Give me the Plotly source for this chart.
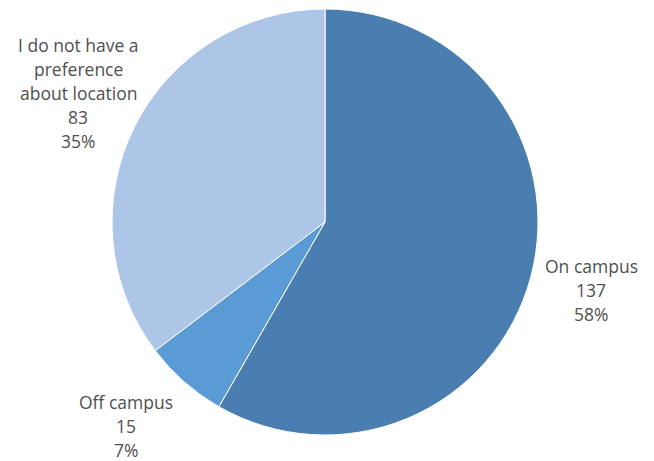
import plotly.graph_objects as go

labels = ["On campus", "Off campus", "I do not have a preference about location"]
label_lines = [["On campus"], ["Off campus"], ["I do not have a", "preference", "about location"]]
values = [137, 15, 83]
pct_labels = ["58%", "7%", "35%"]
colors = ["#4A7EB1", "#5B9BD5", "#ADC5E6"]

W, H = 654, 461
cx, cy, r = 325, 222, 213

fig = go.Figure(go.Pie(
    labels=labels, values=values, sort=False, direction="clockwise", rotation=0,
    marker=dict(colors=colors, line=dict(color="white", width=1)),
    textinfo="none", hoverinfo="label+value+percent",
    domain=dict(x=[(cx - r) / W, (cx + r) / W], y=[(H - cy - r) / H, (H - cy + r) / H]),
    showlegend=False,
))

# label block: center x, first line center y
pos = [(591, 266), (126, 402), (78, 45)]
step = 24.0
for (px, py), lines, v, p in zip(pos, label_lines, values, pct_labels):
    all_lines = lines + [str(v), p]
    for i, t in enumerate(all_lines):
        fig.add_annotation(x=px / W, y=1 - (py + i * step) / H, xref="paper", yref="paper",
                           xanchor="center", yanchor="middle",
                           text=t, showarrow=False, align="center",
                           font=dict(family="Open Sans", size=17.5, color="#505050"))

fig.update_layout(width=W, height=H, margin=dict(l=0, r=0, t=0, b=0),
                  paper_bgcolor="white", plot_bgcolor="white")
fig.write_html("out.html", config={"displayModeBar": False},
               post_script="document.body.style.margin='0';")
